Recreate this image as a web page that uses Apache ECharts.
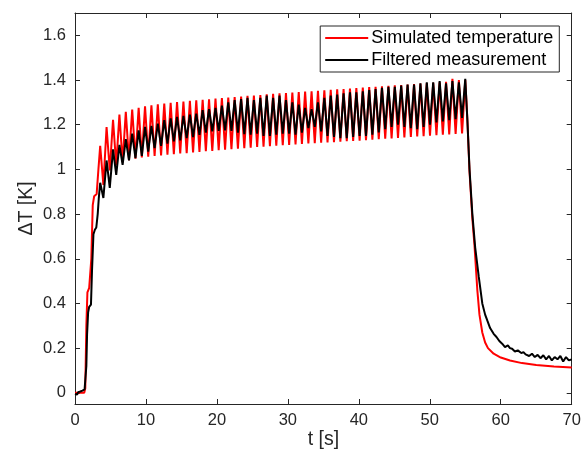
<!DOCTYPE html>
<html>
<head>
<meta charset="utf-8">
<script src="https://cdn.jsdelivr.net/npm/echarts@6/dist/echarts.min.js"></script>
<style>
html,body{margin:0;padding:0;background:#fff;}
#chart{width:587px;height:456px;}
</style>
</head>
<body>
<div id="chart"></div>
<script>
// ---- data ----
var xTicks = [0, 10, 20, 30, 40, 50, 60, 70];
var yTicks = [0, 0.2, 0.4, 0.6, 0.8, 1, 1.2, 1.4, 1.6];
var seriesNames = ['Simulated temperature', 'Filtered measurement'];

// heating start
var simStartT = [0, 1.3, 1.45, 1.6, 1.75, 2.0, 2.15, 2.3, 2.5, 2.7, 3.05, 3.3];
var simStartV = [0, 0, 0.02, 0.3, 0.45, 0.47, 0.475, 0.6, 0.84, 0.88, 0.89, 1.0];
var measStartT = [0, 0.15, 0.3, 0.45, 0.6, 0.75, 0.9, 1.05, 1.2, 1.35, 1.5, 1.6, 1.7, 1.85, 2.0, 2.25, 2.4, 2.6, 2.8, 3.0, 3.2, 3.35];
var measStartV = [-0.005, 0.0, -0.008, 0.003, -0.002, 0.006, 0.004, 0.01, 0.012, 0.015, 0.02, 0.12, 0.26, 0.36, 0.385, 0.395, 0.55, 0.71, 0.73, 0.74, 0.8, 0.87];

// oscillating part: times of peaks and troughs (both curves)
var oscT = [
  3.55, 4.00, 4.45, 4.90, 5.36, 5.81, 6.26, 6.71, 7.16, 7.61,
  8.06, 8.52, 8.97, 9.42, 9.87, 10.32, 10.77, 11.22, 11.67, 12.13,
  12.58, 13.03, 13.48, 13.93, 14.38, 14.83, 15.28, 15.74, 16.19, 16.64,
  17.09, 17.54, 17.99, 18.44, 18.89, 19.35, 19.80, 20.25, 20.70, 21.15,
  21.60, 22.05, 22.50, 22.96, 23.41, 23.86, 24.31, 24.76, 25.21, 25.67,
  26.12, 26.57, 27.02, 27.47, 27.92, 28.37, 28.82, 29.28, 29.73, 30.18,
  30.63, 31.08, 31.53, 31.98, 32.43, 32.89, 33.34, 33.79, 34.24, 34.69,
  35.14, 35.59, 36.04, 36.50, 36.95, 37.40, 37.85, 38.30, 38.75, 39.20,
  39.65, 40.11, 40.56, 41.01, 41.46, 41.91, 42.36, 42.81, 43.26, 43.72,
  44.17, 44.62, 45.07, 45.52, 45.97, 46.42, 46.87, 47.33, 47.78, 48.23,
  48.68, 49.13, 49.58, 50.03, 50.48, 50.94, 51.39, 51.84, 52.29, 52.74,
  53.19, 53.64, 54.10, 54.55, 55.00
];
var simOscV = [
  1.105, 0.93, 1.19, 0.995, 1.222, 1.018, 1.245, 1.032, 1.258, 1.041,
  1.268, 1.048, 1.276, 1.053, 1.282, 1.057, 1.287, 1.06, 1.291, 1.063,
  1.295, 1.066, 1.298, 1.068, 1.301, 1.071, 1.304, 1.073, 1.307, 1.076,
  1.309, 1.078, 1.312, 1.081, 1.314, 1.083, 1.317, 1.086, 1.319, 1.088,
  1.322, 1.09, 1.324, 1.093, 1.326, 1.095, 1.329, 1.097, 1.331, 1.1,
  1.333, 1.102, 1.336, 1.104, 1.338, 1.106, 1.34, 1.108, 1.342, 1.11,
  1.344, 1.112, 1.346, 1.114, 1.348, 1.116, 1.35, 1.117, 1.352, 1.119,
  1.354, 1.121, 1.356, 1.122, 1.358, 1.124, 1.36, 1.126, 1.362, 1.127,
  1.364, 1.129, 1.366, 1.131, 1.368, 1.133, 1.37, 1.135, 1.372, 1.137,
  1.374, 1.139, 1.376, 1.141, 1.378, 1.143, 1.38, 1.145, 1.382, 1.147,
  1.384, 1.149, 1.386, 1.151, 1.388, 1.153, 1.39, 1.155, 1.392, 1.157,
  1.405, 1.159, 1.40, 1.161, 1.40
];
var measOscV = [
  0.94, 0.872, 1.04, 0.917, 1.09, 0.975, 1.11, 1.02, 1.135, 1.04,
  1.16, 1.05, 1.175, 1.06, 1.19, 1.08, 1.195, 1.095, 1.205, 1.105,
  1.22, 1.115, 1.228, 1.125, 1.235, 1.13, 1.24, 1.14, 1.245, 1.145,
  1.25, 1.155, 1.265, 1.165, 1.27, 1.17, 1.275, 1.172, 1.285, 1.175,
  1.30, 1.172, 1.31, 1.165, 1.315, 1.158, 1.32, 1.155, 1.31, 1.16,
  1.32, 1.15, 1.33, 1.15, 1.32, 1.155, 1.33, 1.16, 1.31, 1.16,
  1.30, 1.155, 1.29, 1.165, 1.275, 1.185, 1.27, 1.19, 1.30, 1.17,
  1.32, 1.15, 1.33, 1.145, 1.335, 1.14, 1.34, 1.14, 1.345, 1.145,
  1.345, 1.15, 1.35, 1.15, 1.355, 1.155, 1.36, 1.165, 1.365, 1.18,
  1.37, 1.19, 1.37, 1.2, 1.375, 1.19, 1.38, 1.185, 1.38, 1.18,
  1.385, 1.19, 1.39, 1.2, 1.39, 1.21, 1.395, 1.215, 1.385, 1.22,
  1.395, 1.225, 1.39, 1.23, 1.405
];

// cooling
var simDecayT = [55.3, 55.6, 56.0, 56.3, 56.7, 57.0, 57.4, 57.8, 58.2, 59.0, 60.0, 61.3, 63.0, 65.0, 67.5, 70.0];
var simDecayV = [1.22, 0.99, 0.78, 0.66, 0.46, 0.35, 0.27, 0.225, 0.2, 0.175, 0.158, 0.145, 0.133, 0.125, 0.118, 0.113];
var measDecayT = [55.3, 55.6, 56.0, 56.4, 56.9, 57.4, 57.8, 58.1, 58.5, 59.0, 59.4, 59.8, 60.2, 60.6, 61.0, 61.3, 61.6, 62.0, 62.4, 62.9, 63.2, 63.5, 64.0, 64.4, 64.8, 65.2, 65.6, 66.0, 66.4, 66.8, 67.2, 67.6, 68.0, 68.4, 68.8, 69.2, 69.6, 70.0];
var measDecayV = [1.22, 1.0, 0.8, 0.65, 0.52, 0.40, 0.35, 0.324, 0.29, 0.264, 0.25, 0.232, 0.22, 0.205, 0.212, 0.2, 0.197, 0.185, 0.19, 0.178, 0.182, 0.172, 0.165, 0.175, 0.16, 0.17, 0.155, 0.168, 0.15, 0.165, 0.145, 0.16, 0.15, 0.165, 0.14, 0.16, 0.145, 0.15];

function pairs(ts, vs) {
  var out = [];
  var n = Math.min(ts.length, vs.length);
  for (var i = 0; i < n; i++) out.push([ts[i], vs[i]]);
  return out;
}
var simData = pairs(simStartT, simStartV).concat(pairs(oscT, simOscV), pairs(simDecayT, simDecayV));
var measData = pairs(measStartT, measStartV).concat(pairs(oscT, measOscV), pairs(measDecayT, measDecayV));

var FONT = 'Liberation Sans, Arial, Helvetica, sans-serif';
var AX = '#262626';

function fmt(v) { return String(Math.round(v * 10) / 10); }

var chart = echarts.init(document.getElementById('chart'), null, {renderer: 'canvas'});
chart.setOption({
  animation: false,
  backgroundColor: '#ffffff',
  textStyle: {fontFamily: FONT},
  grid: {left: 75, right: 15.3, top: 13, bottom: 52, containLabel: false},
  legend: {
    orient: 'vertical',
    right: 27.7,
    top: 26,
    padding: [3, 6, 3, 4],
    itemWidth: 43,
    itemHeight: 14,
    itemGap: 4,
    backgroundColor: '#ffffff',
    borderColor: AX,
    borderWidth: 1,
    borderRadius: 0,
    itemStyle: {opacity: 0},
    textStyle: {fontSize: 18, color: '#000', fontFamily: FONT, padding: [0, 0, 0, -2]},
    data: seriesNames
  },
  xAxis: [{
    type: 'value', min: 0, max: 70, interval: 10, position: 'bottom',
    name: 't [s]', nameLocation: 'middle', nameGap: 26, nameMoveOverlap: false,
    nameTextStyle: {fontSize: 19.5, color: AX, fontFamily: FONT},
    axisLine: {show: true, onZero: false, lineStyle: {color: AX, width: 1}},
    axisTick: {show: true, inside: true, length: 5, lineStyle: {color: AX}},
    axisLabel: {show: true, fontSize: 16.5, color: AX, margin: 8, fontFamily: FONT, formatter: fmt},
    splitLine: {show: false}
  }, {
    type: 'value', min: 0, max: 70, interval: 10, position: 'top',
    axisLine: {show: true, onZero: false, lineStyle: {color: AX, width: 1}},
    axisTick: {show: true, inside: true, length: 5, lineStyle: {color: AX}},
    axisLabel: {show: false},
    splitLine: {show: false}
  }],
  yAxis: [{
    type: 'value', min: -0.05, max: 1.7, position: 'left',
    name: '\u0394T [K]', nameLocation: 'middle', nameGap: 38, nameRotate: 90, nameMoveOverlap: false,
    nameTextStyle: {fontSize: 19.5, color: AX, fontFamily: FONT},
    axisLine: {show: true, onZero: false, lineStyle: {color: AX, width: 1}},
    axisTick: {show: true, inside: true, length: 5, lineStyle: {color: AX}, customValues: yTicks},
    axisLabel: {show: true, fontSize: 16.5, color: AX, margin: 9, fontFamily: FONT, customValues: yTicks, formatter: fmt},
    splitLine: {show: false}
  }, {
    type: 'value', min: -0.05, max: 1.7, position: 'right',
    axisLine: {show: true, onZero: false, lineStyle: {color: AX, width: 1}},
    axisTick: {show: true, inside: true, length: 5, lineStyle: {color: AX}, customValues: yTicks},
    axisLabel: {show: false, customValues: yTicks},
    splitLine: {show: false}
  }],
  series: [{
    name: seriesNames[0], type: 'line', xAxisIndex: 0, yAxisIndex: 0,
    data: simData, symbol: 'none', smooth: false,
    lineStyle: {color: '#ff0000', width: 2},
    itemStyle: {color: '#ff0000'}, z: 2
  }, {
    name: seriesNames[1], type: 'line', xAxisIndex: 0, yAxisIndex: 0,
    data: measData, symbol: 'none', smooth: false,
    lineStyle: {color: '#000000', width: 2},
    itemStyle: {color: '#000000'}, z: 3
  }]
});
</script>
</body>
</html>
